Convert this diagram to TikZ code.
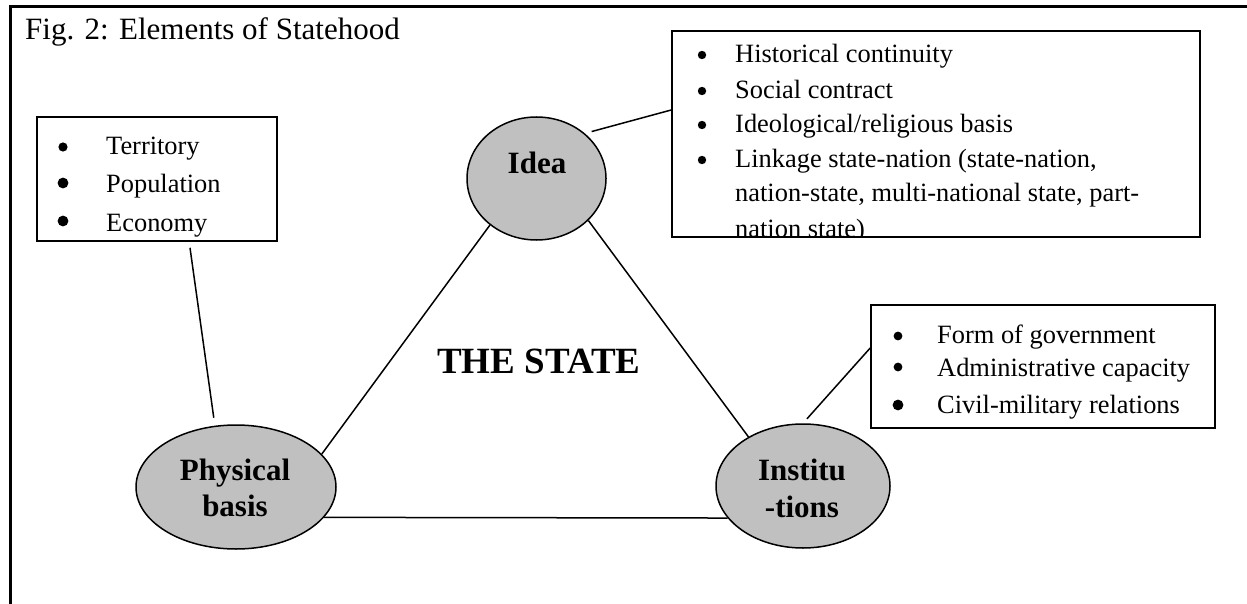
\documentclass[tikz,border=0pt]{standalone}
\usepackage{fontspec}
\setmainfont{Liberation Serif}
\usetikzlibrary{shapes.geometric,calc}
\definecolor{ovalgray}{RGB}{192,192,192}
\begin{document}
\begin{tikzpicture}[x=1pt,y=-1pt,
  oval/.style={ellipse,draw,line width=1.5pt,fill=ovalgray,inner sep=0pt},
  listbox/.style={draw,line width=1.6pt,rectangle,inner sep=0pt},
  item/.style={anchor=base west,inner sep=0pt,font=\fontsize{26.4}{30}\selectfont},
  ovallabel/.style={anchor=base,inner sep=0pt,font=\fontsize{31}{36}\selectfont\bfseries},
  link/.style={line width=1.5pt}]
\useasboundingbox (0,0) rectangle (1247,604);
% frame
\draw[line width=3pt] (10.5,604) -- (10.5,6.5) -- (1247,6.5);
\node[anchor=base west,inner sep=0pt,font=\fontsize{31}{36}\selectfont] (title) at (25,40) {Fig. 2: Elements of Statehood};

% ellipses
\node[oval,minimum width=139pt,minimum height=123pt] (idea) at (536.5,178.5) {};
\node[oval,minimum width=200pt,minimum height=124pt] (phys) at (236,487) {};
\node[oval,minimum width=174pt,minimum height=124pt] (inst) at (803,486) {};
\node[ovallabel] (ideal) at (537,174) {Idea};
\node[ovallabel] (physl1) at (235,480) {Physical};
\node[ovallabel] (physl2) at (235,516) {basis};
\node[ovallabel] (instl1) at (802,480) {Institu};
\node[ovallabel] (instl2) at (802,517) {-tions};

% THE STATE
\node[anchor=base west,inner sep=0pt,font=\fontsize{37}{40}\selectfont\bfseries] (state) at (437,373) {THE STATE};

% boxes
\node[listbox,minimum width=240pt,minimum height=124pt] (physbox) at (157,179) {};
\node[listbox,minimum width=528pt,minimum height=206pt] (ideabox) at (936,134) {};
\node[listbox,minimum width=344pt,minimum height=123pt] (instbox) at (1043,366.5) {};

\begin{scope}
\clip (37,117) rectangle (277,241);
\fill (63,147) circle (4.6pt);
\fill (63,183) circle (5.4pt);
\fill (63,221) circle (5.4pt);
\node[item] (p1) at (106,155) {Territory};
\node[item] (p2) at (106,193) {Population};
\node[item] (p3) at (106,231) {Economy};
\end{scope}

\begin{scope}
\clip (672,31) rectangle (1200,237);
\fill (702,55) circle (4.2pt);
\fill (702,91) circle (4.2pt);
\fill (702,125) circle (4.2pt);
\fill (702,160) circle (4.2pt);
\node[item] (i1) at (735,63) {Historical continuity};
\node[item] (i2) at (735,99) {Social contract};
\node[item] (i3) at (735,133) {Ideological/religious basis};
\node[item] (i4) at (735,168) {Linkage state-nation (state-nation,};
\node[item] (i5) at (735,202) {nation-state, multi-national state, part-};
\node[item] (i6) at (735,237) {nation state)};
\end{scope}

\fill (898,336) circle (4.4pt);
\fill (898,367) circle (4.4pt);
\fill (898,405) circle (5.4pt);
\node[item] (s1) at (937,343) {Form of government};
\node[item] (s2) at (937,376) {Administrative capacity};
\node[item] (s3) at (937,413) {Civil-military relations};

% connectors
\draw[link,shorten <=7pt] (idea.43) -- ([yshift=24pt]ideabox.west);
\draw[link] (idea.225) -- (phys.21);
\draw[link] (idea.321) -- (inst.138);
\draw[link] (phys.341) -- (inst.203);
\draw[link,shorten >=8pt] ([xshift=33pt,yshift=-6pt]physbox.south) -- (phys.109);
\draw[link,shorten >=6pt] ([yshift=18.5pt]instbox.west) -- (inst.north);
\end{tikzpicture}
\end{document}
